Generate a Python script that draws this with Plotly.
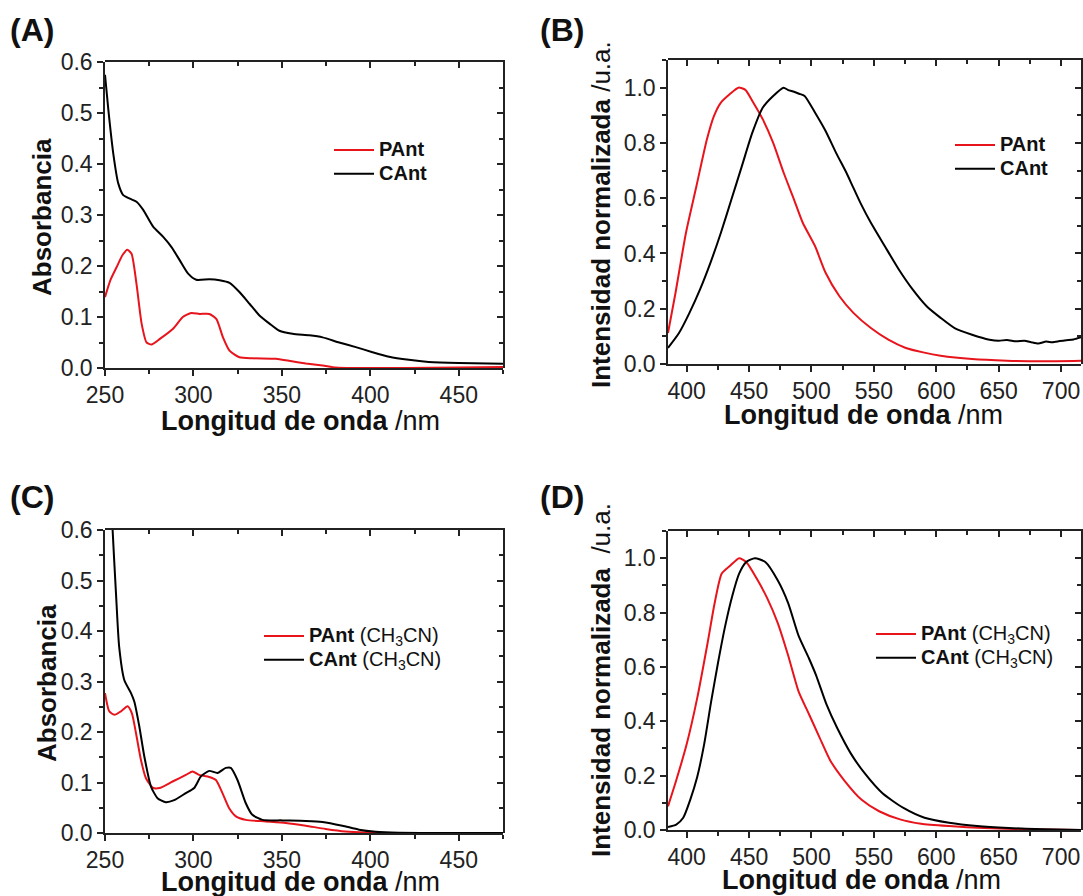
import plotly.graph_objects as go

# ---------------- data ----------------
# Panel A : absorbance
a_pant_x = [250, 253, 256.6, 260, 262.6, 265, 267.8, 270.7, 273.5, 276.3, 281, 288.5, 294, 298.8, 303.5, 309, 313,
            316.7, 320.4, 326, 333.6, 346.7, 354, 363.6, 373, 380.5, 390, 420, 450, 475]
a_pant_y = [0.139, 0.172, 0.198, 0.222, 0.232, 0.224, 0.165, 0.087, 0.050, 0.046, 0.057, 0.077, 0.100, 0.108, 0.106,
            0.106, 0.096, 0.060, 0.034, 0.021, 0.019, 0.018, 0.014, 0.009, 0.005, 0.001, 0.0, 0.0, 0.001, 0.002]
a_cant_x = [250, 251.9, 254.7, 257.5, 260.3, 264, 267.8, 271.6, 277.2, 282.9, 287.6, 292.3, 297, 301.6, 309, 314.8,
            320.4, 326, 331.7, 337.3, 343, 348.6, 356, 365.5, 373, 382.4, 391.8, 401.2, 410.6, 421.8, 433, 450, 475]
a_cant_y = [0.575, 0.506, 0.420, 0.362, 0.339, 0.332, 0.326, 0.310, 0.277, 0.257, 0.237, 0.211, 0.185, 0.173, 0.174,
            0.172, 0.167, 0.149, 0.126, 0.103, 0.087, 0.073, 0.067, 0.064, 0.060, 0.050, 0.041, 0.031, 0.022, 0.016,
            0.012, 0.0098, 0.0085]

# Panel B : normalised emission
b_pant_x = [385, 391, 399.4, 407.8, 416.2, 421.8, 427.4, 434.4, 441.4, 447, 452.6, 461, 469.3, 477.7, 486, 493,
            502.9, 511.3, 522.4, 533.6, 547.6, 561.6, 575.6, 589.5, 603.5, 628.7, 656.6, 684.6, 717]
b_pant_y = [0.112, 0.257, 0.475, 0.644, 0.813, 0.897, 0.946, 0.976, 1.0, 0.992, 0.952, 0.885, 0.800, 0.692, 0.595,
            0.511, 0.426, 0.330, 0.245, 0.185, 0.130, 0.088, 0.058, 0.042, 0.030, 0.018, 0.012, 0.0097, 0.012]
b_cant_x = [385, 393.8, 402.2, 410.6, 419, 427.4, 435.8, 444.2, 452.6, 461, 469.3, 477.7, 481, 486, 490, 494.5,
            502.9, 511.3, 519.7, 528, 532.3, 539.2, 547.6, 558.8, 570, 581.2, 592.3, 603.5, 614.7, 628.7, 642.7,
            650, 656.6, 664, 670.6, 676, 681.8, 688, 693, 699, 704.2, 710, 717]
b_cant_y = [0.058, 0.112, 0.185, 0.269, 0.366, 0.475, 0.595, 0.716, 0.837, 0.928, 0.970, 1.0, 0.992, 0.985, 0.978,
            0.970, 0.909, 0.843, 0.764, 0.692, 0.650, 0.583, 0.511, 0.426, 0.342, 0.269, 0.209, 0.167, 0.130, 0.106,
            0.088, 0.084, 0.087, 0.082, 0.084, 0.079, 0.074, 0.081, 0.079, 0.083, 0.086, 0.089, 0.098]

# Panel C : absorbance in CH3CN
c_pant_x = [250, 252.4, 255.3, 259, 262.8, 265.2, 267.5, 270.3, 273.1, 276.9, 280.7, 288.2, 295.7, 299.5, 303.2,
            308.9, 312.7, 316.4, 320.2, 324, 329.6, 340.9, 352.2, 363.5, 374.7, 386, 397.3, 420, 475]
c_pant_y = [0.277, 0.241, 0.234, 0.241, 0.251, 0.237, 0.198, 0.145, 0.109, 0.090, 0.089, 0.102, 0.115, 0.122, 0.115,
            0.111, 0.105, 0.079, 0.049, 0.033, 0.026, 0.023, 0.020, 0.0145, 0.008, 0.003, 0.001, 0.0, 0.0]
c_cant_x = [252.5, 254.3, 256.2, 258, 260.9, 264.7, 266.6, 269.4, 272.2, 276, 279.7, 284.4, 289.1, 295.7, 300.4,
            304.2, 308.9, 313.6, 318.3, 321.1, 324.9, 329.6, 333.3, 339, 350.3, 363.5, 372.9, 384.2, 393.6, 403,
            416.1, 440, 475]
c_cant_y = [0.75, 0.60, 0.475, 0.369, 0.303, 0.277, 0.260, 0.211, 0.152, 0.092, 0.069, 0.061, 0.065, 0.079, 0.089,
            0.112, 0.123, 0.119, 0.129, 0.129, 0.105, 0.059, 0.036, 0.026, 0.025, 0.024, 0.022, 0.0145, 0.0066,
            0.0026, 0.0007, 0.0, 0.0]

# Panel D : normalised emission in CH3CN
d_pant_x = [385, 391.6, 400, 408.4, 416.8, 422.4, 428, 435, 442, 447.7, 456.1, 464.5, 472.9, 481.3, 489.7, 498.1,
            506.5, 515, 526.2, 540.2, 554.2, 571, 587.8, 610.3, 638.3, 672, 717]
d_pant_y = [0.087, 0.183, 0.316, 0.485, 0.690, 0.835, 0.943, 0.973, 1.0, 0.986, 0.925, 0.853, 0.762, 0.642, 0.509,
            0.425, 0.340, 0.256, 0.183, 0.111, 0.069, 0.039, 0.023, 0.0145, 0.0072, 0.0024, 0.0]
d_cant_x = [385, 391.6, 397.2, 402.8, 408.4, 414, 419.6, 425.2, 430.8, 436.4, 442, 447.7, 454.6, 463, 472.9, 481.3,
            489.7, 498.1, 503.7, 512.1, 520.5, 531.7, 542.9, 556.9, 573.7, 590.6, 610.3, 632.7, 657.9, 686, 717]
d_cant_y = [0.011, 0.020, 0.045, 0.111, 0.195, 0.316, 0.473, 0.618, 0.750, 0.859, 0.943, 0.986, 1.0, 0.986, 0.919,
            0.835, 0.714, 0.630, 0.569, 0.461, 0.376, 0.280, 0.207, 0.135, 0.081, 0.045, 0.0265, 0.0145, 0.0072,
            0.0024, 0.0]

abs_xticks = [250, 300, 350, 400, 450]
abs_yticks = [0.0, 0.1, 0.2, 0.3, 0.4, 0.5, 0.6]
em_xticks = [400, 450, 500, 550, 600, 650, 700]
em_yticks = [0.0, 0.2, 0.4, 0.6, 0.8, 1.0]

panel_labels = ["(A)", "(B)", "(C)", "(D)"]
legend_names_1 = ["<b>PAnt</b>", "<b>CAnt</b>"]
legend_names_2 = ["<b>PAnt</b> (CH<sub>3</sub>CN)", "<b>CAnt</b> (CH<sub>3</sub>CN)"]
xtitle = "<b>Longitud de onda</b> /nm"
ytitle_abs = "<b>Absorbancia</b>"
ytitle_em_1 = "<b>Intensidad normalizada</b> /u.a."
ytitle_em_2 = "<b>Intensidad normalizada</b>  /u.a."

RED = "#e8141c"
BLACK = "#000000"
FONT = "Liberation Sans, Arial, sans-serif"

# ---------------- layout geometry ----------------
W, H = 1083, 896
def px_x(a, b):
    return [a / W, b / W]
def px_y(top, bottom):
    return [1 - bottom / H, 1 - top / H]

dom = {
    1: (px_x(105, 503), px_y(62, 368)),
    2: (px_x(668, 1081), px_y(60, 364)),
    3: (px_x(105, 503), px_y(530, 833)),
    4: (px_x(668, 1081), px_y(531, 830)),
}
ranges = {
    1: ([250, 475], [0, 0.6], abs_xticks, abs_yticks, 25, 0.05),
    2: ([385, 716], [0, 1.1], em_xticks, em_yticks, 25, 0.1),
    3: ([250, 475], [0, 0.6], abs_xticks, abs_yticks, 25, 0.05),
    4: ([385, 716], [0, 1.1], em_xticks, em_yticks, 25, 0.1),
}

fig = go.Figure()

def big(s):
    return '<span style="font-size:20px">' + s + "</span>"

series = [
    (1, a_pant_x, a_pant_y, RED, legend_names_1[0], "legend"),
    (1, a_cant_x, a_cant_y, BLACK, legend_names_1[1], "legend"),
    (2, b_pant_x, b_pant_y, RED, legend_names_1[0], "legend2"),
    (2, b_cant_x, b_cant_y, BLACK, legend_names_1[1], "legend2"),
    (3, c_pant_x, c_pant_y, RED, legend_names_2[0], "legend3"),
    (3, c_cant_x, c_cant_y, BLACK, legend_names_2[1], "legend3"),
    (4, d_pant_x, d_pant_y, RED, legend_names_2[0], "legend4"),
    (4, d_cant_x, d_cant_y, BLACK, legend_names_2[1], "legend4"),
]
for k, xs, ys, col, name, leg in series:
    sfx = "" if k == 1 else str(k)
    fig.add_trace(go.Scatter(x=xs, y=ys, mode="lines", name=big(name), legend=leg,
                             line=dict(color=col, width=2, shape="spline", smoothing=0.6),
                             xaxis="x" + sfx, yaxis="y" + sfx))

layout = {}
axis_line = dict(showline=True, linecolor="#222", linewidth=1.5, showgrid=False, zeroline=False,
                 tickcolor="#222", tickwidth=1.5, automargin=False)
tickfont = dict(family=FONT, size=23, color="#222")
for k in range(1, 5):
    xr, yr, xt, yt, xminor, yminor = ranges[k]
    sfx = "" if k == 1 else str(k)
    xd, yd = dom[k]
    layout["xaxis" + sfx] = dict(domain=xd, anchor="y" + sfx, range=xr, tickvals=xt, ticks="outside", ticklen=6,
                                 minor=dict(dtick=xminor, tick0=0, ticks="outside", ticklen=4, tickcolor="#222",
                                            tickwidth=1.5),
                                 tickfont=tickfont, **axis_line)
    layout["yaxis" + sfx] = dict(domain=yd, anchor="x" + sfx, range=yr, tickvals=yt, tickformat=".1f",
                                 ticks="outside", ticklen=6,
                                 minor=dict(dtick=yminor, tick0=0, ticks="outside", ticklen=4, tickcolor="#222",
                                            tickwidth=1.5),
                                 tickfont=tickfont, **axis_line)
    # companion subplot on the same area: top / right frame with inward ticks
    layout["xaxis" + str(k + 4)] = dict(domain=xd, side="top", anchor="y" + str(k + 4), range=xr, tickvals=xt,
                                        ticks="inside", ticklen=6, showticklabels=False,
                                        minor=dict(dtick=xminor, tick0=0, ticks="inside", ticklen=4,
                                                   tickcolor="#222", tickwidth=1.5),
                                        **axis_line)
    layout["yaxis" + str(k + 4)] = dict(domain=yd, side="right", anchor="x" + str(k + 4), range=yr, tickvals=yt,
                                        ticks="inside", ticklen=6, showticklabels=False,
                                        minor=dict(dtick=yminor, tick0=0, ticks="inside", ticklen=4,
                                                   tickcolor="#222", tickwidth=1.5),
                                        **axis_line)
    fig.add_trace(go.Scatter(x=[xr[0]], y=[yr[0]], mode="markers", marker=dict(size=1, opacity=0),
                             showlegend=False, hoverinfo="skip",
                             xaxis="x" + str(k + 4), yaxis="y" + str(k + 4)))

legfont = dict(family=FONT, size=16, color="#111")
legend_common = dict(bgcolor="rgba(0,0,0,0)", borderwidth=0, font=legfont, tracegroupgap=0,
                     itemwidth=40, xanchor="left", yanchor="top", xref="paper", yref="paper")
layout["legend"] = dict(x=329 / W, y=1 - 133 / H, **legend_common)
layout["legend2"] = dict(x=950 / W, y=1 - 128 / H, **legend_common)
layout["legend3"] = dict(x=259 / W, y=1 - 619 / H, **legend_common)
layout["legend4"] = dict(x=871 / W, y=1 - 617 / H, **legend_common)

annotations = []
title_font = dict(family=FONT, size=27, color="#111")
ytitle_font = dict(family=FONT, size=26, color="#111")
label_font = dict(family=FONT, size=32, color="#111")
# panel labels
for (lx, ly), lab in zip([(8, 30), (538, 30), (8, 497), (538, 497)], panel_labels):
    annotations.append(dict(text="<b>" + lab + "</b>", x=lx / W, y=1 - ly / H, xref="paper", yref="paper",
                            xanchor="left", yanchor="middle", showarrow=False, font=label_font))
# x titles
for cx, cy in [(300, 421), (863, 415), (300, 882), (861, 880)]:
    annotations.append(dict(text=xtitle, x=cx / W, y=1 - cy / H, xref="paper", yref="paper",
                            xanchor="center", yanchor="middle", showarrow=False, font=title_font))
# y titles
for (cx, cy), txt in zip([(42, 217), (601, 215), (47, 683), (601, 680)],
                         [ytitle_abs, ytitle_em_1, ytitle_abs, ytitle_em_2]):
    annotations.append(dict(text=txt, x=cx / W, y=1 - cy / H, xref="paper", yref="paper", textangle=-90,
                            xanchor="center", yanchor="middle", showarrow=False, font=ytitle_font))

fig.update_layout(width=W, height=H, margin=dict(l=0, r=0, t=0, b=0, pad=0, autoexpand=False),
                  paper_bgcolor="white", plot_bgcolor="rgba(0,0,0,0)", showlegend=True,
                  annotations=annotations, font=dict(family=FONT), **layout)

fig.write_html("out.html")
